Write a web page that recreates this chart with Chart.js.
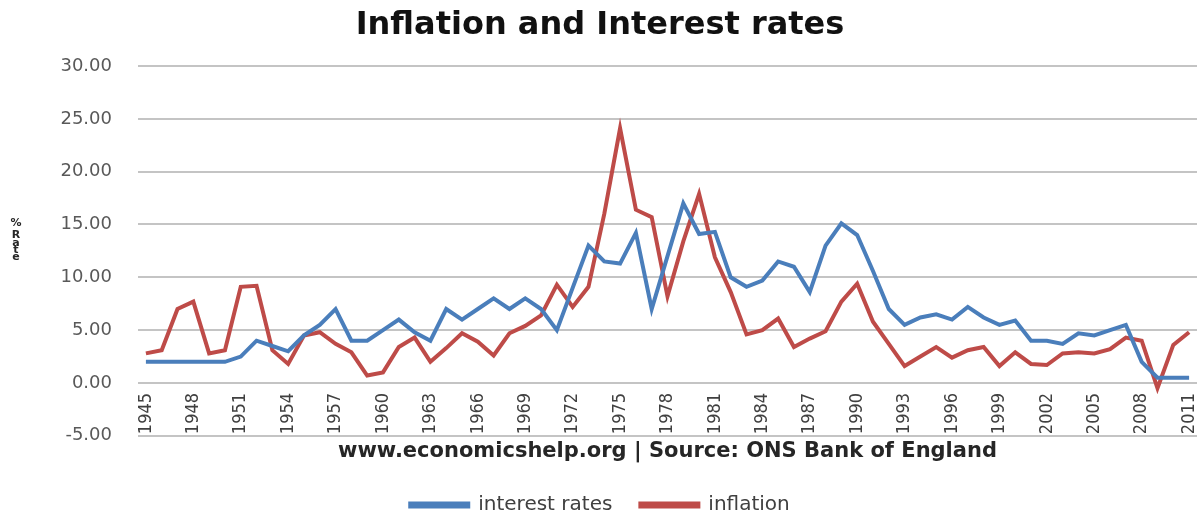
<!DOCTYPE html>
<html>
<head>
<meta charset="utf-8">
<title>Inflation and Interest rates</title>
<script src="https://cdn.jsdelivr.net/npm/chart.js@4/dist/chart.umd.min.js"></script>
<style>
  html, body { margin: 0; padding: 0; background: #fff; }
  #chart { display: block; }
</style>
</head>
<body>
<canvas id="chart" width="1200" height="512"></canvas>
<script>
const years = [
  "1945", "1946", "1947", "1948", "1949", "1950", "1951", "1952", "1953", "1954",
  "1955", "1956", "1957", "1958", "1959", "1960", "1961", "1962", "1963", "1964",
  "1965", "1966", "1967", "1968", "1969", "1970", "1971", "1972", "1973", "1974",
  "1975", "1976", "1977", "1978", "1979", "1980", "1981", "1982", "1983", "1984",
  "1985", "1986", "1987", "1988", "1989", "1990", "1991", "1992", "1993", "1994",
  "1995", "1996", "1997", "1998", "1999", "2000", "2001", "2002", "2003", "2004",
  "2005", "2006", "2007", "2008", "2009", "2010", "2011",
];

const interestRates = [
  2, 2, 2, 2, 2, 2, 2.5, 4, 3.5, 3,
  4.5, 5.5, 7, 4, 4, 5, 6, 4.8, 4, 7,
  6, 7, 8, 7, 8, 7, 5, 9, 13, 11.5,
  11.3, 14.2, 7, 12, 17, 14.1, 14.3, 10, 9.1, 9.7,
  11.5, 11, 8.6, 13, 15.1, 14, 10.6, 7, 5.5, 6.2,
  6.5, 6, 7.2, 6.2, 5.5, 5.9, 4, 4, 3.7, 4.7,
  4.5, 5, 5.5, 2, 0.5, 0.5, 0.5,
];

const inflation = [
  2.8, 3.1, 7.0, 7.7, 2.8, 3.1, 9.1, 9.2, 3.1, 1.8,
  4.5, 4.8, 3.7, 2.9, 0.7, 1.0, 3.4, 4.3, 2.0, 3.3,
  4.7, 3.9, 2.6, 4.7, 5.4, 6.4, 9.3, 7.2, 9.1, 16.0,
  24.1, 16.4, 15.7, 8.2, 13.4, 17.9, 11.9, 8.6, 4.6, 5.0,
  6.1, 3.4, 4.2, 4.9, 7.7, 9.4, 5.8, 3.7, 1.6, 2.5,
  3.4, 2.4, 3.1, 3.4, 1.6, 2.9, 1.8, 1.7, 2.8, 2.9,
  2.8, 3.2, 4.3, 4.0, -0.5, 3.6, 4.8,
];

const yTitleLetters = ["%", "R", "a", "t", "e"];

const blue = "#4a7ebb";
const red = "#be4b48";

Chart.defaults.font.family = "'DejaVu Sans', Verdana, sans-serif";

// Excel-style stacked axis title, one letter under the other
const stackedYTitle = {
  id: "stackedYTitle",
  afterDraw: (chart) => {
    const { ctx } = chart;
    const ys = [223, 235, 243, 250, 257];
    ctx.save();
    ctx.fillStyle = "#262626";
    ctx.font = "bold 11px 'DejaVu Sans', sans-serif";
    ctx.textAlign = "center";
    ctx.textBaseline = "middle";
    yTitleLetters.forEach((ch, i) => ctx.fillText(ch, 16, ys[i]));
    ctx.restore();
  },
};

new Chart(document.querySelector("#chart"), {
  type: "line",
  data: {
    labels: years,
    datasets: [
      {
        label: "interest rates",
        data: interestRates,
        borderColor: blue,
        backgroundColor: blue,
        borderWidth: 4,
        pointRadius: 0,
        tension: 0,
      },
      {
        label: "inflation",
        data: inflation,
        borderColor: red,
        backgroundColor: red,
        borderWidth: 4,
        pointRadius: 0,
        tension: 0,
      },
    ],
  },
  options: {
    responsive: false,
    animation: false,
    layout: {
      padding: { left: 3, right: 3, top: 0, bottom: -13 },
    },
    plugins: {
      title: {
        display: true,
        text: "Inflation and Interest rates",
        color: "#111",
        font: { size: 32, weight: "bold" },
        padding: { top: 6, bottom: 21.6 },
      },
      subtitle: {
        display: true,
        position: "bottom",
        fullSize: false,
        weight: 500,
        text: "www.economicshelp.org | Source: ONS Bank of England",
        color: "#262626",
        font: { size: 21, weight: "bold" },
        padding: { top: 3, bottom: 3 },
      },
      legend: {
        position: "bottom",
        labels: {
          color: "#404040",
          font: { size: 20 },
          boxWidth: 58,
          boxHeight: 3,
          padding: 28,
        },
      },
      tooltip: { enabled: false },
    },
    scales: {
      x: {
        position: { y: 0 },
        offset: true,
        afterFit: (scale) => {
          scale.height = 0;
          scale.paddingLeft = 0;
          scale.paddingRight = 0;
        },
        grid: { display: false, drawTicks: false },
        border: { display: false },
        ticks: {
          autoSkip: false,
          minRotation: 90,
          maxRotation: 90,
          padding: 10,
          color: "#404040",
          font: { family: "'Liberation Sans Narrow', 'DejaVu Sans Condensed', sans-serif", size: 18 },
          callback: function (value, index) {
            return index % 3 === 0 ? this.getLabelForValue(value) : "";
          },
        },
      },
      y: {
        min: -5,
        max: 30,
        afterFit: (scale) => {
          // room on the left for the stacked "% Rate" title
          scale.width = 135;
        },
        grid: { color: "#c4c4c4", lineWidth: 2, drawTicks: false },
        border: { display: false },
        ticks: {
          stepSize: 5,
          padding: 26,
          color: "#595959",
          font: { size: 18 },
          callback: (v) => v.toFixed(2),
        },
      },
    },
  },
  plugins: [stackedYTitle],
});
</script>
</body>
</html>
